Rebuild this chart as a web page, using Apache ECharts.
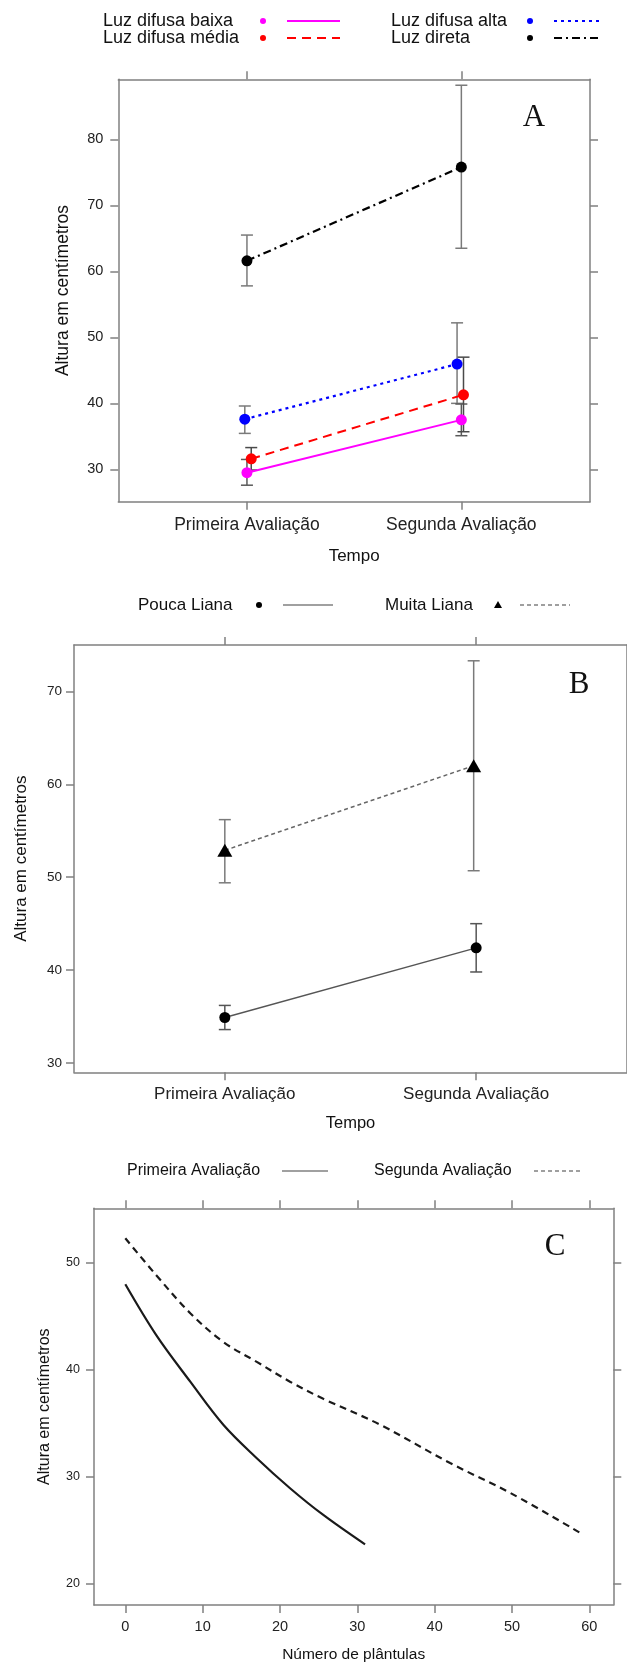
<!DOCTYPE html>
<html>
<head>
<meta charset="utf-8">
<script src="https://cdn.jsdelivr.net/npm/echarts@6/dist/echarts.min.js"></script>
<style>html,body{margin:0;padding:0;background:#fff;}#c{width:627px;height:1666px;}</style>
</head>
<body>
<div id="c"></div>
<script>
// ---------- DATA ----------
const categories = ['Primeira Avaliação', 'Segunda Avaliação'];
const catTicks = [1, 2];

// Panel A
const aNames = ['Luz difusa baixa', 'Luz difusa média', 'Luz difusa alta', 'Luz direta'];
const aBaixaX = [1.0, 2.0];
const aBaixa = [29.5, 37.5];
const aBaixaLow = [27.6, 35.1];
const aBaixaHigh = [31.5, 39.9];
const aMediaX = [1.02, 2.01];
const aMedia = [31.6, 41.3];
const aMediaLow = [29.9, 35.7];
const aMediaHigh = [33.3, 47.0];
const aAltaX = [0.99, 1.98];
const aAlta = [37.6, 45.95];
const aAltaLow = [35.45, 40.0];
const aAltaHigh = [39.6, 52.2];
const aDiretaX = [1.0, 2.0];
const aDireta = [61.6, 75.8];
const aDiretaLow = [57.8, 63.5];
const aDiretaHigh = [65.5, 88.2];
const aYTicks = [30, 40, 50, 60, 70, 80];

// Panel B
const bNames = ['Pouca Liana', 'Muita Liana'];
const bPoucaX = [1.0, 2.0];
const bPouca = [34.9, 42.4];
const bPoucaLow = [33.6, 39.8];
const bPoucaHigh = [36.2, 45.0];
const bMuitaX = [1.0, 1.99];
const bMuita = [52.9, 62.0];
const bMuitaLow = [49.4, 50.7];
const bMuitaHigh = [56.2, 73.3];
const bYTicks = [30, 40, 50, 60, 70];

// Panel C
const cNames = ['Primeira Avaliação', 'Segunda Avaliação'];
const cPrimeiraX = [0, 4, 8.4, 12.7, 17, 21.3, 25.6, 31];
const cPrimeira = [48.0, 43.25, 38.9, 34.85, 31.75, 28.95, 26.45, 23.7];
const cSegundaX = [0, 4, 8.4, 12.7, 17, 21.3, 25.6, 32.9, 42, 49.8, 59];
const cSegunda = [52.3, 48.85, 45.3, 42.6, 40.75, 38.9, 37.3, 34.9, 31.3, 28.5, 24.7];
const cXTicks = [0, 10, 20, 30, 40, 50, 60];
const cYTicks = [20, 30, 40, 50];

// ---------- HELPERS ----------
const sans = 'Liberation Sans';
const serif = 'Liberation Serif';
const boxColor = '#808080';
const zip2 = (a, b) => a.map((v, i) => [v, b[i]]);
const zip3 = (a, b, c) => a.map((v, i) => [v, b[i], c[i]]);

function axis(o) {
  const ax = {
    type: 'value', gridIndex: o.grid, position: o.pos, min: o.min, max: o.max,
    splitLine: { show: false },
    axisLine: { show: true, onZero: false, lineStyle: { color: boxColor, width: 1.5 } },
    axisTick: { show: true, length: 8, customValues: o.ticks, lineStyle: { color: boxColor, width: 1.5 } },
    axisLabel: o.label ? Object.assign({ customValues: o.ticks, color: '#222', fontFamily: sans }, o.label) : { show: false }
  };
  if (o.name) {
    ax.name = o.name; ax.nameLocation = 'middle'; ax.nameGap = o.nameGap;
    ax.nameTextStyle = { fontSize: o.nameSize, color: '#111', fontFamily: sans };
  }
  return ax;
}

function errBar(color) {
  return function (params, api) {
    const x = api.value(0), lo = api.value(1), hi = api.value(2);
    const p1 = api.coord([x, lo]), p2 = api.coord([x, hi]);
    const w = 6;
    const st = { stroke: color, lineWidth: 1.5 };
    return {
      type: 'group', children: [
        { type: 'line', shape: { x1: p1[0], y1: p1[1], x2: p2[0], y2: p2[1] }, style: st },
        { type: 'line', shape: { x1: p1[0] - w, y1: p1[1], x2: p1[0] + w, y2: p1[1] }, style: st },
        { type: 'line', shape: { x1: p2[0] - w, y1: p2[1], x2: p2[0] + w, y2: p2[1] }, style: st }
      ]
    };
  };
}

function errSeries(xi, x, lo, hi, color) {
  return { type: 'custom', xAxisIndex: xi, yAxisIndex: xi, renderItem: errBar(color),
    encode: { x: 0, y: [1, 2] }, data: zip3(x, lo, hi), z: 1, silent: true };
}
function lineSeries(xi, name, x, y, color, lineType, width, symbol, symbolSize, smooth) {
  return { type: 'line', name: name, xAxisIndex: xi, yAxisIndex: xi, data: zip2(x, y),
    symbol: symbol, symbolSize: symbolSize, showSymbol: symbol !== 'none', smooth: smooth || false,
    itemStyle: { color: color },
    lineStyle: { color: color, width: width, type: lineType }, z: 3, silent: true };
}

const catFmt = v => categories[Math.round(v) - 1];

// ---------- LEGENDS / LABELS (decoration) ----------
function txt(t, x, y, size, fam, align) {
  return { type: 'text', x: x, y: y, style: { text: t, fill: '#111', fontSize: size, fontFamily: fam || sans,
    verticalAlign: 'middle', align: align || 'left' } };
}
function seg(x1, x2, y, color, dash, w) {
  return { type: 'line', shape: { x1: x1, y1: y, x2: x2, y2: y }, style: { stroke: color, lineWidth: w || 2, lineDash: dash || null } };
}
function dot(x, y, r, color) { return { type: 'circle', shape: { cx: x, cy: y, r: r }, style: { fill: color } }; }
function tri(x, y, s) { return { type: 'polygon', shape: { points: [[x, y - s], [x - s, y + s * 0.75], [x + s, y + s * 0.75]] }, style: { fill: '#000' } }; }

const graphics = [
  // Legend A
  txt(aNames[0], 103, 21, 18), dot(263, 21, 3, '#ff00ff'), seg(287, 340, 21, '#ff00ff'),
  txt(aNames[1], 103, 38, 18), dot(263, 38, 3, '#ff0000'), seg(287, 340, 38, '#ff0000', [9, 6]),
  txt(aNames[2], 391, 21, 18), dot(530, 21, 3, '#0000ff'), seg(554, 602, 21, '#0000ff', [3, 4]),
  txt(aNames[3], 391, 38, 18), dot(530, 38, 3, '#000000'), seg(554, 602, 38, '#000000', [8, 4, 2, 4]),
  // Legend B
  txt(bNames[0], 138, 605, 17), dot(259, 605, 3, '#000'), seg(283, 333, 605, '#808080', null, 1.5),
  txt(bNames[1], 385, 605, 17), tri(498, 605, 4), seg(520, 570, 605, '#808080', [4, 3], 1.5),
  // Legend C
  txt(cNames[0], 127, 1171, 16), seg(282, 328, 1171, '#808080', null, 1.5),
  txt(cNames[1], 374, 1171, 16), seg(534, 580, 1171, '#808080', [4, 3], 1.5),
  // Panel letters
  txt('A', 534, 118, 31, serif, 'center'),
  txt('B', 579, 685, 31, serif, 'center'),
  txt('C', 555, 1247, 31, serif, 'center')
];

// ---------- OPTION ----------
const option = {
  animation: false,
  backgroundColor: '#fff',
  grid: [
    { left: 118.3, top: 79.3, width: 471.7, height: 422.4 },
    { left: 74, top: 645, width: 560.3, height: 427.3 },
    { left: 94, top: 1208.3, width: 519.3, height: 396.7 }
  ],
  xAxis: [
    axis({ grid: 0, pos: 'bottom', min: 0.4, max: 2.6, ticks: catTicks, label: { formatter: catFmt, fontSize: 17.5, margin: 14 }, name: 'Tempo', nameGap: 46, nameSize: 17 }),
    axis({ grid: 0, pos: 'top', min: 0.4, max: 2.6, ticks: catTicks }),
    axis({ grid: 1, pos: 'bottom', min: 0.4, max: 2.6, ticks: catTicks, label: { formatter: catFmt, fontSize: 17, margin: 14 }, name: 'Tempo', nameGap: 43, nameSize: 16.5 }),
    axis({ grid: 1, pos: 'top', min: 0.4, max: 2.6, ticks: catTicks }),
    axis({ grid: 2, pos: 'bottom', min: -4.05, max: 63.1, ticks: cXTicks, label: { fontSize: 14.5, margin: 14 }, name: 'Número de plântulas', nameGap: 42, nameSize: 15.5 }),
    axis({ grid: 2, pos: 'top', min: -4.05, max: 63.1, ticks: cXTicks })
  ],
  yAxis: [
    axis({ grid: 0, pos: 'left', min: 25.1, max: 89.1, ticks: aYTicks, label: { fontSize: 14.5, margin: 15 }, name: 'Altura em centímetros', nameGap: 46, nameSize: 17.5 }),
    axis({ grid: 0, pos: 'right', min: 25.1, max: 89.1, ticks: aYTicks }),
    axis({ grid: 1, pos: 'left', min: 29.0, max: 75.0, ticks: bYTicks, label: { fontSize: 13.5, margin: 12 }, name: 'Altura em centímetros', nameGap: 44, nameSize: 17 }),
    axis({ grid: 1, pos: 'right', min: 29.0, max: 75.0, ticks: bYTicks }),
    axis({ grid: 2, pos: 'left', min: 18.04, max: 55.1, ticks: cYTicks, label: { fontSize: 12.5, margin: 14 }, name: 'Altura em centímetros', nameGap: 41, nameSize: 16 }),
    axis({ grid: 2, pos: 'right', min: 18.04, max: 55.1, ticks: cYTicks })
  ],
  series: [
    // Panel A error bars
    errSeries(0, aDiretaX, aDiretaLow, aDiretaHigh, '#7a7a7a'),
    errSeries(0, aAltaX, aAltaLow, aAltaHigh, '#7a7a7a'),
    errSeries(0, aBaixaX, aBaixaLow, aBaixaHigh, '#5a5a5a'),
    errSeries(0, aMediaX, aMediaLow, aMediaHigh, '#4a4a4a'),
    // Panel A lines
    lineSeries(0, aNames[0], aBaixaX, aBaixa, '#ff00ff', 'solid', 2, 'circle', 11),
    lineSeries(0, aNames[1], aMediaX, aMedia, '#ff0000', [9, 6], 2, 'circle', 11),
    lineSeries(0, aNames[2], aAltaX, aAlta, '#0000ff', [3, 4], 2.2, 'circle', 11),
    lineSeries(0, aNames[3], aDiretaX, aDireta, '#000000', [8, 4, 2, 4], 2.2, 'circle', 11),
    // Panel B
    errSeries(2, bMuitaX, bMuitaLow, bMuitaHigh, '#7a7a7a'),
    errSeries(2, bPoucaX, bPoucaLow, bPoucaHigh, '#555555'),
    Object.assign(lineSeries(2, bNames[0], bPoucaX, bPouca, '#555555', 'solid', 1.4, 'circle', 11), { itemStyle: { color: '#000' } }),
    Object.assign(lineSeries(2, bNames[1], bMuitaX, bMuita, '#666666', [4, 3], 1.4, 'triangle', [15, 13]), { itemStyle: { color: '#000' } }),
    // Panel C
    lineSeries(4, cNames[0], cPrimeiraX, cPrimeira, '#1a1a1a', 'solid', 2.2, 'none', 0, 0.35),
    lineSeries(4, cNames[1], cSegundaX, cSegunda, '#1a1a1a', [7, 5], 2.2, 'none', 0, 0.35)
  ],
  graphic: graphics
};

const chart = echarts.init(document.getElementById('c'), null, { renderer: 'canvas' });
chart.setOption(option);
</script>
</body>
</html>
